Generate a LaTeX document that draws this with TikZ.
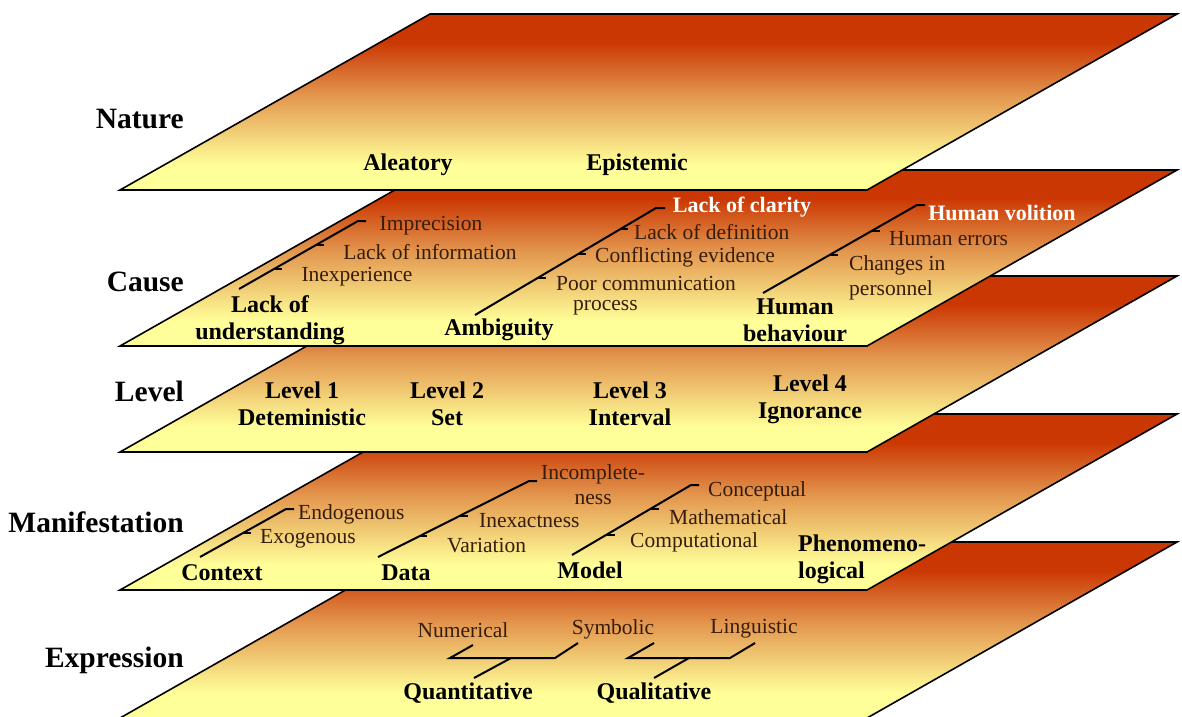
\documentclass[tikz,border=0pt]{standalone}
\usepackage{fontspec}
\setmainfont{Liberation Serif}
\usepackage{xcolor}
\usetikzlibrary{calc}

\definecolor{rust}{RGB}{203,55,3}
\definecolor{planemid}{RGB}{226,150,78}
\definecolor{paleyel}{RGB}{255,255,153}
\definecolor{subtxt}{RGB}{55,28,10}
\pgfdeclareverticalshading{planeshade}{100bp}{color(0bp)=(paleyel); color(32bp)=(paleyel);
  color(52bp)=(planemid); color(67bp)=(rust); color(100bp)=(rust)}

\begin{document}
\begin{tikzpicture}[x=1pt,y=-1pt,
   plane/.style={shading=planeshade,draw=black,line width=1.6pt,line join=miter},
   branch/.style={draw=black,line width=2pt},
   lbl/.style={font=\fontsize{29.5}{34}\selectfont\bfseries,anchor=east,inner sep=0pt},
   cat/.style={font=\fontsize{24}{27}\selectfont\bfseries,align=center,inner sep=0pt},
   sub/.style={font=\fontsize{21.5}{25}\selectfont,text=subtxt,inner sep=0pt},
   hi/.style={font=\fontsize{22}{25}\selectfont\bfseries,text=white,inner sep=0pt}]
  \useasboundingbox (0,0) rectangle (1182,716);

  % the five layers, lowest first
  \foreach \yb in {718,590,452,346,190}
    \shadedraw[plane] (120,\yb) -- ++(747,0) -- ++(310,-176) -- ++(-747,0) -- cycle;

  % layer names
  \node[lbl] (nature) at (184,119) {Nature};
  \node[lbl] (cause) at (184,282) {Cause};
  \node[lbl] (level) at (184,391) {Level};
  \node[lbl] (manif) at (184,522) {Manifestation};
  \node[lbl] (expr) at (184,660) {Expression};

  % nature
  \node[cat] (alea) at (408,165) {Aleatory};
  \node[cat] (epis) at (637,165) {Epistemic};

  % cause
  \node[cat] (lou) at (270,320) {Lack of\\understanding};
  \node[cat] (amb) at (499,330) {Ambiguity};
  \node[cat] (hum) at (795,320) {Human\\behaviour};
  \node[sub] (impr) at (431,226) {Imprecision};
  \node[sub] (linf) at (430,252) {Lack of information};
  \node[sub] (inexp) at (357,277) {Inexperience};
  \node[hi] (lcla) at (742,207) {Lack of clarity};
  \node[sub,anchor=west] (ldef) at (634,232) {Lack of definition};
  \node[sub,anchor=west] (conf) at (595,257) {Conflicting evidence};
  \node[sub,anchor=west] (poor) at (556,283) {Poor communication};
  \node[sub,anchor=west] (proc) at (573,308) {process};
  \node[hi] (hvol) at (1002,213) {Human volition};
  \node[sub,anchor=west] (herr) at (889,239) {Human errors};
  \node[sub,anchor=west,align=left] (chg) at (849,277.5) {Changes in\\personnel};

  \coordinate (lu0) at (239,289);  \coordinate (lu1) at (358,221);
  \coordinate (am0) at (475,315);  \coordinate (am1) at (656,208);
  \coordinate (hu0) at (763,293);  \coordinate (hu1) at (917,205);
  \draw[branch] (lu0) -- (lu1) -- ++(8,0);
  \draw[branch] (am0) -- (am1) -- ++(9,0);
  \draw[branch] (hu0) -- (hu1) -- ++(8,0);
  \foreach \f in {.29,.65} \draw[branch] ($(lu0)!\f!(lu1)$) -- ++(8,0);
  \foreach \f in {.35,.57,.80} \draw[branch] ($(am0)!\f!(am1)$) -- ++(8,0);
  \foreach \f in {.435,.71} \draw[branch] ($(hu0)!\f!(hu1)$) -- ++(8,0);

  % level
  \node[cat] (lv1) at (302,404) {Level 1\\Deteministic};
  \node[cat] (lv2) at (447,404) {Level 2\\Set};
  \node[cat] (lv3) at (630,404) {Level 3\\Interval};
  \node[cat] (lv4) at (810,399) {Level 4\\Ignorance};

  % manifestation
  \node[cat] (ctx) at (222,573) {Context};
  \node[cat] (data) at (406,573) {Data};
  \node[cat] (model) at (590,570) {Model};
  \node[cat,anchor=west,align=left] (phen) at (798,559) {Phenomeno-\\logical};
  \node[sub,anchor=west] (endo) at (298,514) {Endogenous};
  \node[sub,anchor=west] (exo) at (260,539) {Exogenous};
  \node[sub,anchor=west,align=center] (incp) at (541,485) {Incomplete-\\ness};
  \node[sub,anchor=west] (inex) at (479,521) {Inexactness};
  \node[sub,anchor=west] (vari) at (447,546) {Variation};
  \node[sub,anchor=west] (conc) at (708,491) {Conceptual};
  \node[sub,anchor=west] (math) at (669,517) {Mathematical};
  \node[sub,anchor=west] (comp) at (630,542) {Computational};

  \coordinate (cx0) at (200,557);  \coordinate (cx1) at (286,509);
  \coordinate (da0) at (378,557);  \coordinate (da1) at (529,481);
  \coordinate (mo0) at (572,555);  \coordinate (mo1) at (691,485);
  \draw[branch] (cx0) -- (cx1) -- ++(8,0);
  \draw[branch] (da0) -- (da1) -- ++(8,0);
  \draw[branch] (mo0) -- (mo1) -- ++(8,0);
  \draw[branch] ($(cx0)!.5!(cx1)$) -- ++(8,0);
  \foreach \f in {.27,.54} \draw[branch] ($(da0)!\f!(da1)$) -- ++(8,0);
  \foreach \f in {.29,.66} \draw[branch] ($(mo0)!\f!(mo1)$) -- ++(8,0);

  % expression
  \node[sub] (num) at (463,630) {Numerical};
  \node[sub] (sym) at (613,629) {Symbolic};
  \node[sub] (ling) at (754,629) {Linguistic};
  \node[cat] (quan) at (468,693) {Quantitative};
  \node[cat] (qual) at (654,693) {Qualitative};

  \coordinate (qn) at (473,645);  \coordinate (qa) at (450,658);
  \coordinate (qb) at (555,658);  \coordinate (qs) at (578,643);
  \coordinate (qm) at (511,658);  \coordinate (qt) at (474,678);
  \coordinate (ln) at (654,643);  \coordinate (la) at (628,658);
  \coordinate (lb) at (730,658);  \coordinate (ls) at (755,643);
  \coordinate (lm) at (689,658);  \coordinate (lt) at (654,678);
  \draw[branch] (qn) -- (qa) -- (qb) -- (qs);
  \draw[branch] (qm) -- (qt);
  \draw[branch] (ln) -- (la) -- (lb) -- (ls);
  \draw[branch] (lm) -- (lt);
\end{tikzpicture}
\end{document}
